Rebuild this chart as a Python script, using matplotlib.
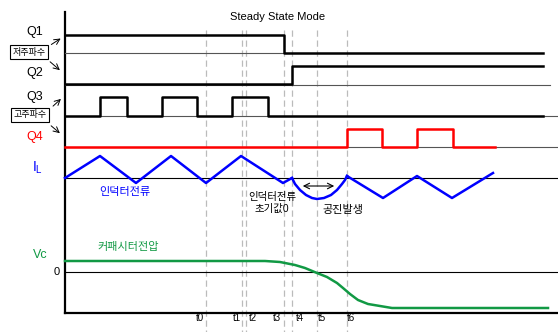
import matplotlib
matplotlib.use("Agg")
import matplotlib.pyplot as plt

plt.rcParams['font.family'] = ['Liberation Sans', 'Noto Sans CJK KR', 'DejaVu Sans']

# event times (x, pixels) and their labels
t_x = [206, 242, 246, 284, 292, 317, 347]
t_labels = ["t0", "t1", "t2", "t3", "t4", "t5", "t6"]
t_label_x = [200, 237, 253, 277, 300, 322, 351]

# gate signals: (x, y) steps
q1_x = [65, 284, 284, 543]
q1_y = [35, 35, 53, 53]
q2_x = [65, 292, 292, 543]
q2_y = [84, 84, 66, 66]
q3_x = [65, 100, 100, 127, 127, 162, 162, 197, 197, 232, 232, 268, 268, 543]
q3_y = [116, 116, 97, 97, 116, 116, 97, 97, 116, 116, 97, 97, 116, 116]
q4_x = [65, 347, 347, 382, 382, 417, 417, 453, 453, 495]
q4_y = [147, 147, 129, 129, 147, 147, 129, 129, 147, 147]

# inductor current
il_x = [65, 100, 136, 171, 206, 241, 283, 292]
il_y = [178, 156, 183, 156, 183, 156, 183, 178]
arc_x = [292, 295, 300, 306, 312, 317, 324, 331, 337, 342, 345, 347]
arc_y = [178, 184, 190, 195, 198, 199, 198, 195, 190, 184, 180, 176]
il2_x = [347, 383, 417, 452, 493]
il2_y = [176, 198, 176, 198, 173]

# capacitor voltage
vc_x = [65, 265, 280, 295, 305, 317, 327, 337, 343, 350, 358, 368, 380, 392, 548]
vc_y = [261, 261, 262, 265, 268, 273, 277, 283, 288, 294, 300, 304, 306, 308, 308]

fig = plt.figure(figsize=(5.58, 3.32), dpi=100)
ax = fig.add_axes([0, 0, 1, 1])
ax.set_xlim(0, 558)
ax.set_ylim(332, 0)
ax.axis("off")

# dashed time markers
for x in t_x:
    ax.plot([x, x], [30, 332], color="#bbbbbb", lw=0.9, ls=(0, (5, 3)), zorder=1)
for x, s in zip(t_label_x, t_labels):
    ax.text(x, 318, s, fontsize=7, ha="center", va="center", zorder=3)

# axes lines
ax.plot([65, 65], [12, 313], color="black", lw=1.6)
ax.plot([65, 558], [313, 313], color="black", lw=1.6)

# thin reference lines
ax.plot([65, 284], [53, 53], color="#555555", lw=0.8)
ax.plot([65, 550], [85, 85], color="#555555", lw=0.8)
ax.plot([65, 558], [116, 116], color="#555555", lw=0.8)
ax.plot([65, 558], [147, 147], color="#555555", lw=0.8)
ax.plot([65, 558], [178, 178], color="black", lw=0.8)
ax.plot([65, 558], [272, 272], color="black", lw=0.8)

ax.plot(q1_x, q1_y, color="black", lw=1.8)
ax.plot(q2_x, q2_y, color="black", lw=1.8)
ax.plot(q3_x, q3_y, color="black", lw=1.8)
ax.plot(q4_x, q4_y, color="red", lw=1.8)
ax.plot(il_x, il_y, color="blue", lw=1.8)
ax.plot(arc_x, arc_y, color="blue", lw=1.8)
ax.plot(il2_x, il2_y, color="blue", lw=1.8)
ax.plot(vc_x, vc_y, color="#119944", lw=1.8)

# resonance arrow
ax.annotate("", xy=(337, 186), xytext=(300, 186),
            arrowprops=dict(arrowstyle="<->", color="black", lw=0.8))

# signal labels
ax.text(35, 32, "Q1", fontsize=9, ha="center", va="center")
ax.text(35, 73, "Q2", fontsize=9, ha="center", va="center")
ax.text(35, 97, "Q3", fontsize=9, ha="center", va="center")
ax.text(35, 137, "Q4", fontsize=9, ha="center", va="center", color="red")
ax.text(38, 168, r"$\mathregular{I_L}$", fontsize=10, ha="center", va="center", color="blue")
ax.text(40, 255, "Vc", fontsize=9, ha="center", va="center", color="#119944")
ax.text(57, 272, "0", fontsize=8, ha="center", va="center")

ax.text(278, 17, "Steady State Mode", fontsize=8, ha="center", va="center")
ax.text(125, 192, "인덕터전류", fontsize=8, ha="center", va="center", color="blue")
ax.text(128, 247, "커패시터전압", fontsize=8, ha="center", va="center", color="#119944")
ax.text(272, 203, "인덕터전류\n초기값0", fontsize=7.5, ha="center", va="center",
        linespacing=1.3)
ax.text(343, 210, "공진발생", fontsize=8, ha="center", va="center")

# frequency boxes with arrows
ax.text(29, 52, "저주파수", fontsize=6.5, ha="center", va="center",
        bbox=dict(fc="white", ec="black", lw=0.8, pad=1.8))
ax.annotate("", xy=(63, 37), xytext=(49, 46),
            arrowprops=dict(arrowstyle="->", color="black", lw=0.7))
ax.annotate("", xy=(62, 72), xytext=(48, 60),
            arrowprops=dict(arrowstyle="->", color="black", lw=0.7))
ax.text(30, 115, "고주파수", fontsize=6.5, ha="center", va="center",
        bbox=dict(fc="white", ec="black", lw=0.8, pad=1.8))
ax.annotate("", xy=(63, 97), xytext=(51, 108),
            arrowprops=dict(arrowstyle="->", color="black", lw=0.7))
ax.annotate("", xy=(62, 135), xytext=(49, 124),
            arrowprops=dict(arrowstyle="->", color="black", lw=0.7))

fig.savefig("out.png", dpi=100)
